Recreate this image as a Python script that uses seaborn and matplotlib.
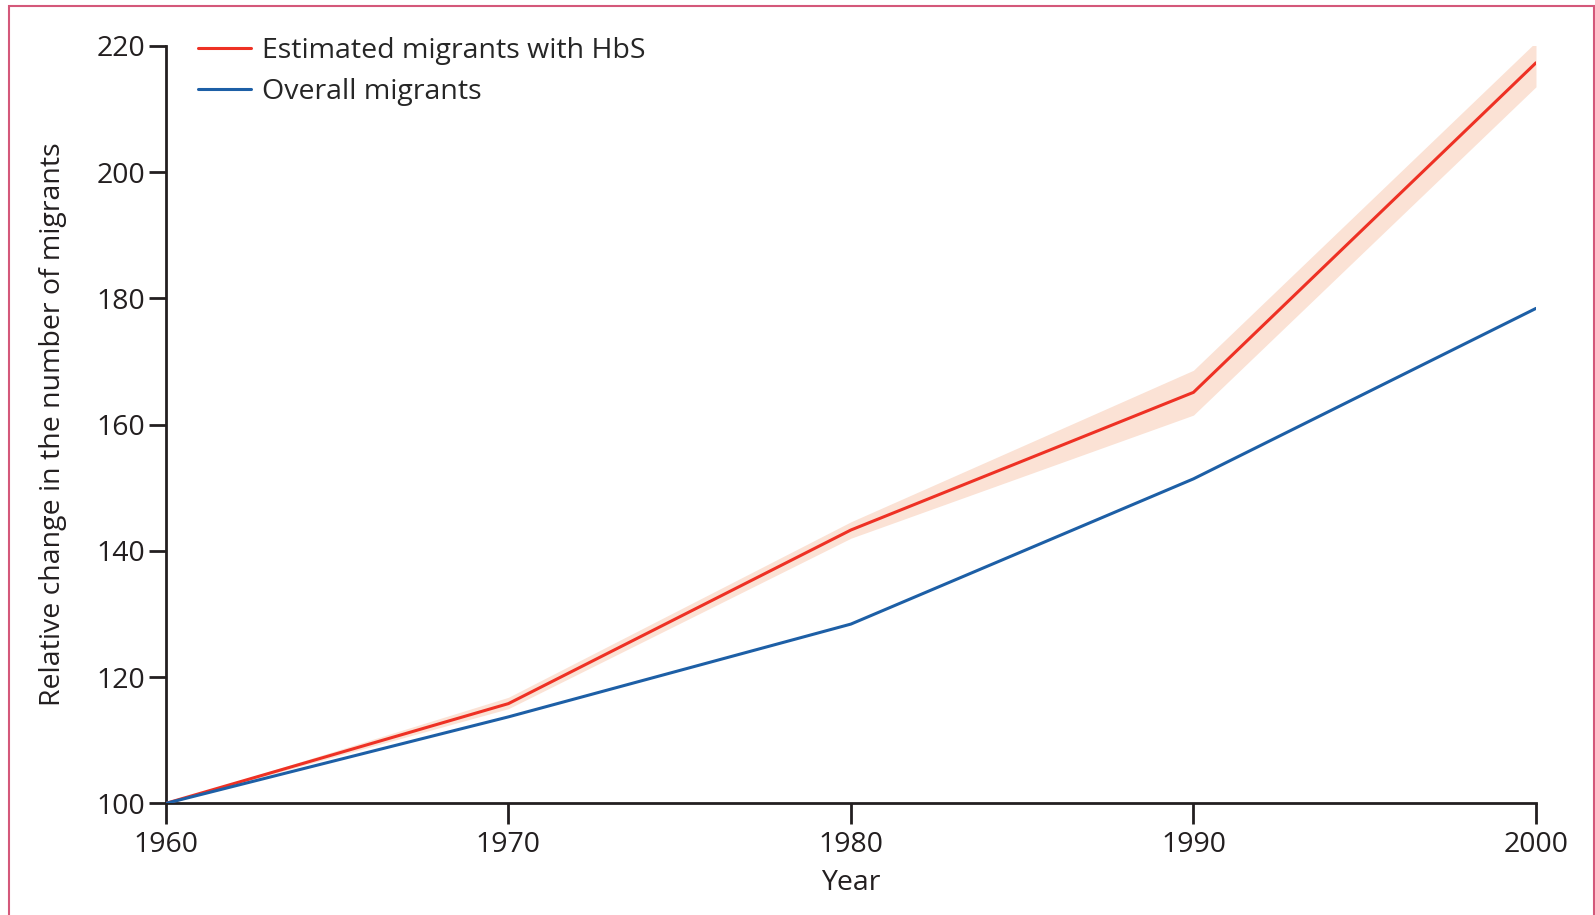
import pandas as pd
import matplotlib
matplotlib.use("Agg")
import matplotlib.pyplot as plt
import seaborn as sns
from matplotlib.patches import Rectangle

# data
years = [1960, 1970, 1980, 1990, 2000]
hbs = [100, 115.8, 143.3, 165.1, 217.3]
hbs_low = [100, 115.0, 142.0, 161.5, 213.5]
hbs_high = [100, 116.8, 144.6, 168.6, 220.6]
overall = [100, 113.7, 128.4, 151.4, 178.4]

series_names = ["Estimated migrants with HbS", "Overall migrants"]
colors = ["#ee3124", "#1d5fa6"]

df = pd.DataFrame({
    "Year": years * 2,
    "value": hbs + overall,
    "series": [series_names[0]] * len(years) + [series_names[1]] * len(years),
})

sns.set_style("ticks")
plt.rcParams["font.family"] = ["Open Sans", "DejaVu Sans"]

fig = plt.figure(figsize=(15.95, 9.15), dpi=100)
ax = fig.add_axes([0.104, 0.122, 0.859, 0.828])

ax.fill_between(years, hbs_low, hbs_high, color="#fbe2d5", lw=0, zorder=1)
sns.lineplot(data=df, x="Year", y="value", hue="series", palette=colors,
             linewidth=2.2, ax=ax, zorder=3)

fs = 20.5
ax.set_xlim(1960, 2000)
ax.set_ylim(100, 220)
ax.set_xticks(years)
ax.set_yticks(range(100, 221, 20))
ax.tick_params(axis="both", labelsize=fs, width=2, color="#231f20", labelcolor="#231f20")
ax.tick_params(axis="y", length=12, pad=3)
ax.tick_params(axis="x", length=15, pad=5)
for s in ["top", "right"]:
    ax.spines[s].set_visible(False)
for s in ["left", "bottom"]:
    ax.spines[s].set_linewidth(2)
    ax.spines[s].set_color("#231f20")

ax.set_xlabel("Year", fontsize=fs, color="#231f20", labelpad=7)
ax.set_ylabel("Relative change in the number of migrants", fontsize=fs,
              color="#231f20", labelpad=21)

leg = ax.legend(loc="upper left", bbox_to_anchor=(0.005, 1.045), frameon=False,
                fontsize=fs, handlelength=1.85, handletextpad=0.4, labelspacing=0.45)
for line in leg.get_lines():
    line.set_linewidth(2.2)

# pink frame round the figure
fig.patches.append(Rectangle((0.0057, -0.01), 0.9935, 1.003, transform=fig.transFigure,
                             fill=False, edgecolor="#d4587a", linewidth=1.5))

fig.savefig("out.png", dpi=100)
